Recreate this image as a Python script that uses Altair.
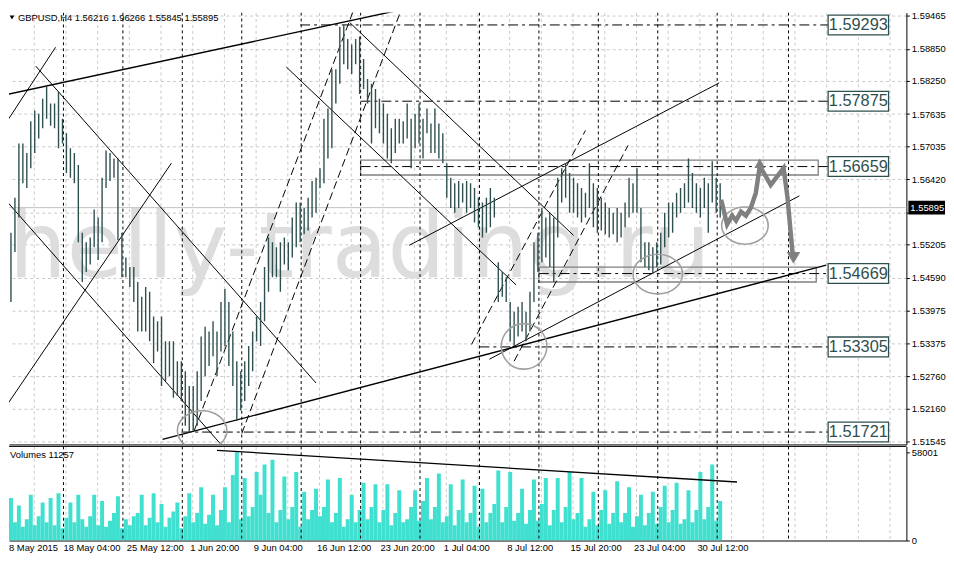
import altair as alt
import pandas as pd

# ---------------- data ----------------
# H4 price bars (every second bar), high / low
bar_high = [1.5599,1.5479,1.5543,1.5608,1.5709,1.5709,1.5691,1.5750,1.5770,1.5764,
1.5792,1.5814,1.5783,1.5783,1.5805,1.5755,1.5728,1.5700,1.5691,1.5669,
1.5543,1.5525,1.5534,1.5586,1.5571,1.5645,1.5696,1.5691,1.5681,1.5681,
1.5543,1.5497,1.5479,1.5479,1.5451,1.5424,1.5442,1.5433,1.5387,1.5378,
1.5387,1.5341,1.5341,1.5341,1.5304,1.5304,1.5285,1.5258,1.5258,1.5285,
1.5350,1.5368,1.5359,1.5378,1.5359,1.5414,1.5438,1.5414,1.5359,1.5304,
1.5285,1.5304,1.5332,1.5359,1.5387,1.5414,1.5479,1.5534,1.5525,1.5516,
1.5525,1.5534,1.5525,1.5571,1.5599,1.5599,1.5589,1.5608,1.5639,1.5645,
1.5663,1.5755,1.5774,1.5847,1.5847,1.5926,1.5930,1.5903,1.5893,1.5903,
1.5908,1.5866,1.5829,1.5820,1.5810,1.5792,1.5783,1.5764,1.5737,1.5755,
1.5755,1.5750,1.5783,1.5755,1.5764,1.5783,1.5755,1.5774,1.5746,1.5774,
1.5746,1.5728,1.5672,1.5645,1.5635,1.5639,1.5635,1.5639,1.5635,1.5626,
1.5608,1.5599,1.5608,1.5626,1.5608,1.5488,1.5470,1.5460,1.5414,1.5396,
1.5405,1.5414,1.5396,1.5433,1.5525,1.5543,1.5589,1.5571,1.5580,1.5571,
1.5645,1.5663,1.5672,1.5654,1.5645,1.5635,1.5626,1.5617,1.5672,1.5635,
1.5626,1.5608,1.5599,1.5589,1.5580,1.5589,1.5580,1.5599,1.5645,1.5635,
1.5663,1.5589,1.5525,1.5525,1.5516,1.5525,1.5543,1.5580,1.5599,1.5599,
1.5617,1.5626,1.5635,1.5681,1.5654,1.5635,1.5626,1.5645,1.5635,1.5676,
1.5645,1.5635]
bar_low = [1.5442,1.5396,1.5414,1.5507,1.5571,1.5635,1.5626,1.5663,1.5691,1.5718,
1.5737,1.5755,1.5742,1.5737,1.5700,1.5709,1.5654,1.5645,1.5635,1.5525,
1.5451,1.5470,1.5484,1.5516,1.5492,1.5525,1.5626,1.5639,1.5645,1.5529,
1.5460,1.5460,1.5442,1.5414,1.5359,1.5359,1.5359,1.5341,1.5300,1.5322,
1.5258,1.5267,1.5276,1.5236,1.5239,1.5230,1.5184,1.5171,1.5175,1.5184,
1.5230,1.5276,1.5295,1.5313,1.5276,1.5322,1.5332,1.5295,1.5258,1.5193,
1.5212,1.5230,1.5258,1.5285,1.5341,1.5332,1.5378,1.5433,1.5460,1.5460,
1.5433,1.5484,1.5473,1.5497,1.5516,1.5525,1.5540,1.5547,1.5571,1.5580,
1.5626,1.5635,1.5681,1.5700,1.5783,1.5820,1.5856,1.5847,1.5838,1.5856,
1.5801,1.5810,1.5783,1.5709,1.5737,1.5728,1.5709,1.5681,1.5672,1.5691,
1.5709,1.5709,1.5718,1.5663,1.5700,1.5709,1.5681,1.5728,1.5691,1.5691,
1.5681,1.5672,1.5608,1.5589,1.5580,1.5589,1.5599,1.5580,1.5589,1.5562,
1.5553,1.5534,1.5543,1.5553,1.5571,1.5414,1.5424,1.5414,1.5341,1.5332,
1.5350,1.5359,1.5341,1.5359,1.5414,1.5470,1.5488,1.5497,1.5479,1.5451,
1.5534,1.5599,1.5608,1.5580,1.5580,1.5571,1.5562,1.5571,1.5589,1.5553,
1.5543,1.5547,1.5540,1.5534,1.5540,1.5525,1.5534,1.5553,1.5571,1.5580,
1.5580,1.5488,1.5479,1.5473,1.5466,1.5479,1.5484,1.5516,1.5534,1.5543,
1.5571,1.5580,1.5589,1.5599,1.5589,1.5580,1.5571,1.5589,1.5543,1.5599,
1.5580,1.5571]
volume = [9000,14000,28000,12000,23000,9000,14000,30000,10000,16000,
25000,12000,28000,10000,31000,8000,15000,25000,12000,30000,
14000,9000,16000,30000,10000,26000,9000,13000,18000,29000,
8000,14000,10000,16000,18000,30000,10000,15000,31000,12000,
24000,9000,15000,19000,25000,8000,16000,31000,12000,18000,
35000,11000,17000,30000,10000,20000,35000,12000,43000,58000,
14000,41000,16000,22000,45000,30000,50000,18000,53000,12000,
20000,42000,14000,22000,45000,9000,32000,14000,20000,34000,
16000,22000,40000,12000,18000,41000,9000,14000,30000,12000,
20000,38000,14000,22000,37000,12000,20000,37000,10000,18000,
33000,12000,14000,22000,33000,13000,26000,41000,14000,22000,
44000,12000,16000,37000,10000,20000,40000,12000,18000,36000,
9000,34000,12000,18000,24000,46000,12000,22000,45000,13000,
18000,34000,11000,20000,40000,13000,24000,41000,10000,20000,
41000,12000,22000,45000,14000,18000,41000,9000,14000,32000,
10000,20000,33000,11000,18000,39000,12000,18000,35000,9000,
16000,30000,10000,18000,32000,11000,22000,36000,12000,20000,
38000,11000,14000,33000,12000,20000,45000,14000,22000,50000,
13000,26000]
bar_index = [2 * k + 1 for k in range(len(bar_high))]   # H4 bar number

price_ticks = [1.59465, 1.58850, 1.58250, 1.57635, 1.57035, 1.56420, 1.55805,
               1.55205, 1.54590, 1.53975, 1.53375, 1.52760, 1.52160, 1.51545]
volume_ticks = [0, 58001]
grid_bars = [0.5 + 16 * k for k in range(1, 29)]
week_starts = [31.5, 61.5, 91.5, 121.5, 151.5, 181.5, 211.5, 241.5, 271.5,
               301.5, 331.5, 361.5, 397.5]
date_labels = ["8 May 2015", "18 May 04:00", "25 May 12:00", "1 Jun 20:00",
               "9 Jun 04:00", "16 Jun 12:00", "23 Jun 20:00", "1 Jul 04:00",
               "8 Jul 12:00", "15 Jul 20:00", "23 Jul 04:00", "30 Jul 12:00"]
date_label_bars = [4, 31.5, 63.5, 95.5, 127.5, 159.5, 191.5, 223.5, 255.5,
                   287.5, 319.5, 351.5]

level_values = [1.59293, 1.57875, 1.56659, 1.54669, 1.53305, 1.51721]
level_start = [151, 181.5, 181.5, 271.5, 241.5, 91]
level_end = 417.5
zone_t0 = [181.5, 271.5]
zone_t1 = [412.5, 411.5]
zone_top = [1.56778, 1.54789]
zone_bot = [1.56502, 1.54512]

solid_t0 = [0, 17.5, 0, 0, 246.5, 206, 144, 176]
solid_p0 = [1.57331, 1.58528, 1.56133, 1.52063, 1.53076, 1.55194, 1.58510, 1.59338]
solid_t1 = [27.5, 159, 111, 86, 403, 362.5, 260, 289]
solid_p1 = [1.58878, 1.52634, 1.51491, 1.56723, 1.56115, 1.58215, 1.54457, 1.55378]
thick_t0 = [0, 81.5]
thick_p0 = [1.57975, 1.51584]
thick_t1 = [218.5, 416.5]
thick_p1 = [1.59707, 1.54826]
dash_t0 = [97.5, 121.5, 237.5, 259]
dash_p0 = [1.51749, 1.51694, 1.53352, 1.53039]
dash_t1 = [179, 202, 295, 316.5]
dash_p1 = [1.5967, 1.59578, 1.57331, 1.57054]

ellipse_t = [101.5, 264, 331.5, 375.5]
ellipse_p = [1.51749, 1.53315, 1.54660, 1.55562]
ellipse_kind = ["oval", "round", "oval", "oval"]
ellipse_radius_px = [25, 23, 25, 23.5]

forecast_t = [363.5, 366.5, 369, 371, 373.5, 376, 378.5, 381, 383, 388.5, 395, 397, 399.5]
forecast_p = [1.56041, 1.55581, 1.55747, 1.55654, 1.55820, 1.55747, 1.55894,
              1.56170, 1.56668, 1.56318, 1.56631, 1.56078, 1.55065]
head_down_t, head_down_p = [400], [1.54960]
head_up_t, head_up_p = [383], [1.56720]

vol_line_t = [109, 371.5]
vol_line_v = [59220, 38430]

last_price = 1.55895
title_text = "GBPUSD,H4  1.56216 1.96266 1.55845 1.55895"
watermark = "helly-trading.ru"

# ---------------- layout ----------------
W, HP, HV = 906, 436, 95
P_TOP, P_BOT = 1.59523, 1.51491
PX = (P_TOP - P_BOT) / HP
FONT = "Liberation Sans"

xs = alt.Scale(domain=[4, 457], nice=False, zero=False)
ys = alt.Scale(domain=[P_BOT, P_TOP], nice=False, zero=False)
vs = alt.Scale(domain=[0, 61800], nice=False)

x_axis = alt.Axis(values=grid_bars, labels=False, ticks=False, domain=True,
                  domainColor="black", grid=True, gridColor="#c8c8c8",
                  gridDash=[3, 3], title=None)
y_axis = alt.Axis(orient="right", values=price_ticks,
                  labelExpr="abs(datum.value-1.55805)<0.000001 ? '' : format(datum.value, '.5f')",
                  grid=True, gridColor="#c8c8c8", gridDash=[3, 3], tickSize=3,
                  tickColor="black", domainColor="black", labelFont=FONT,
                  labelFontSize=9.5, labelColor="black", labelPadding=2,
                  labelOverlap=False, title=None)
v_axis = alt.Axis(orient="right", values=volume_ticks, format="d", grid=False,
                  tickSize=3, tickColor="black", domainColor="black",
                  labelFont=FONT, labelFontSize=9.5, labelColor="black",
                  labelPadding=2, title=None)


def X(f):
    return alt.X(f, type="quantitative", scale=xs, axis=x_axis)


def Y(f):
    return alt.Y(f, type="quantitative", scale=ys, axis=y_axis)


def VY(f):
    return alt.Y(f, type="quantitative", scale=vs, axis=v_axis)


bars_df = pd.DataFrame({"t": bar_index, "high": bar_high, "low": bar_low, "v": volume})

wm = alt.Chart(pd.DataFrame({"t": [4], "p": [1.54605], "s": [watermark]})).mark_text(
    align="left", baseline="alphabetic", fontSize=92, font="DejaVu Sans", color="#dddddd"
).encode(x=X("t"), y=Y("p"), text="s:N")

bid = alt.Chart(pd.DataFrame({"p": [last_price]})).mark_rule(color="#c0c0c0").encode(y=Y("p"))

zones = alt.Chart(pd.DataFrame({"t0": zone_t0, "t1": zone_t1, "a": zone_top, "b": zone_bot})).mark_rect(
    fillOpacity=0, stroke="#808080", strokeWidth=1.3
).encode(x=X("t0"), x2="t1:Q", y=Y("a"), y2="b:Q")

weeks_p = alt.Chart(pd.DataFrame({"t": week_starts})).mark_rule(
    color="black", strokeDash=[3, 3], clip=True
).encode(x=X("t"))

levels = alt.Chart(pd.DataFrame({"t0": level_start, "p": level_values,
                                 "t1": [level_end] * len(level_values)})).mark_rule(
    color="black", strokeDash=[10, 4, 3, 4]
).encode(x=X("t0"), x2="t1:Q", y=Y("p"))

solid = alt.Chart(pd.DataFrame({"t0": solid_t0, "p0": solid_p0, "t1": solid_t1, "p1": solid_p1})).mark_rule(
    color="black", strokeWidth=1, clip=True
).encode(x=X("t0"), y=Y("p0"), x2="t1:Q", y2="p1:Q")

thick = alt.Chart(pd.DataFrame({"t0": thick_t0, "p0": thick_p0, "t1": thick_t1, "p1": thick_p1})).mark_rule(
    color="black", strokeWidth=1.4, clip=True
).encode(x=X("t0"), y=Y("p0"), x2="t1:Q", y2="p1:Q")

dashed = alt.Chart(pd.DataFrame({"t0": dash_t0, "p0": dash_p0, "t1": dash_t1, "p1": dash_p1})).mark_rule(
    color="black", strokeWidth=1, strokeDash=[8, 4], clip=True
).encode(x=X("t0"), y=Y("p0"), x2="t1:Q", y2="p1:Q")

price_bars = alt.Chart(bars_df).mark_rule(color="#2f4f4f", strokeWidth=1.4, clip=True).encode(
    x=X("t"), y=Y("low"), y2="high:Q"
)

oval_path = "M -1 0 A 1 0.8 0 1 1 1 0 A 1 0.8 0 1 1 -1 0 Z"
round_path = "M -1 0 A 1 1 0 1 1 1 0 A 1 1 0 1 1 -1 0 Z"
ell_df = pd.DataFrame({"t": ellipse_t, "p": ellipse_p, "k": ellipse_kind,
                       "s": [(2 * r) ** 2 for r in ellipse_radius_px]})
ellipses = alt.Chart(ell_df).mark_point(filled=False, color="#a0a0a0", strokeWidth=1.6,
                                        opacity=1, clip=True).encode(
    x=X("t"), y=Y("p"),
    shape=alt.Shape("k:N", scale=alt.Scale(domain=["oval", "round"], range=[oval_path, round_path]), legend=None),
    size=alt.Size("s:Q", scale=None, legend=None),
)

fc_df = pd.DataFrame({"t": forecast_t, "p": forecast_p, "i": list(range(len(forecast_t)))})
forecast = alt.Chart(fc_df).mark_line(color="#808080", strokeWidth=4.5, strokeJoin="miter").encode(
    x=X("t"), y=Y("p"), order="i:Q"
)
head_down = alt.Chart(pd.DataFrame({"t": head_down_t, "p": head_down_p})).mark_point(
    shape="triangle-down", filled=True, color="#808080", opacity=1, size=190
).encode(x=X("t"), y=Y("p"))
head_up = alt.Chart(pd.DataFrame({"t": head_up_t, "p": head_up_p})).mark_point(
    shape="triangle-up", filled=True, color="#808080", opacity=1, size=120
).encode(x=X("t"), y=Y("p"))

box_df = pd.DataFrame({"p": level_values,
                       "lab": [f"{v:.5f}" for v in level_values]})
box_df["a"] = box_df["p"] + 10 * PX
box_df["b"] = box_df["p"] - 10 * PX
box_df["t0"] = 417.5
box_df["t1"] = 448
box_df["tc"] = 432.75
boxes = alt.Chart(box_df).mark_rect(fill="white", stroke="#2f4f4f", strokeWidth=1.3).encode(
    x=X("t0"), x2="t1:Q", y=Y("a"), y2="b:Q"
)
box_text = alt.Chart(box_df).mark_text(fontSize=16.5, font=FONT, color="#2f4f4f",
                                       baseline="middle", align="center").encode(
    x=X("tc"), y=Y("p"), text="lab:N"
)

title_df = pd.DataFrame({"s": [title_text]})
title = alt.Chart(title_df).mark_text(align="left", baseline="top", fontSize=9.5, font=FONT,
                                      color="black").encode(
    x=alt.value(9), y=alt.value(1), text="s:N"
)
title_tri = alt.Chart(title_df).mark_point(shape="triangle-down", filled=True, color="black",
                                           size=22, opacity=1).encode(
    x=alt.value(3), y=alt.value(5)
)

lp_df = pd.DataFrame({"p": [last_price], "lab": [f"{last_price:.5f}"]})
lp_df["a"] = lp_df["p"] + 7 * PX
lp_df["b"] = lp_df["p"] - 7 * PX
lp_box = alt.Chart(lp_df).mark_rect(color="black").encode(
    x=alt.value(W + 2), x2=alt.value(W + 39), y=Y("a"), y2="b:Q"
)
lp_text = alt.Chart(lp_df).mark_text(color="white", align="left", baseline="middle",
                                     fontSize=9.5, font=FONT).encode(
    x=alt.value(W + 4), y=Y("p"), text="lab:N"
)

price_panel = alt.layer(
    wm, bid, zones, weeks_p, levels, solid, thick, dashed, price_bars,
    ellipses, forecast, head_down, head_up, boxes, box_text, title, title_tri, lp_box, lp_text
).properties(width=W, height=HP)

# ---------------- volume panel ----------------
vol_bars = alt.Chart(bars_df).transform_calculate(
    t0="datum.t - 1", t1="datum.t + 1", z="0"
).mark_rect(color="#40e0d0", clip=True).encode(
    x=X("t0:Q"), x2="t1:Q", y=VY("v"), y2="z:Q"
)
weeks_v = alt.Chart(pd.DataFrame({"t": week_starts})).mark_rule(
    color="black", strokeDash=[3, 3], clip=True
).encode(x=X("t"))
vol_line = alt.Chart(pd.DataFrame({"t0": [vol_line_t[0]], "v0": [vol_line_v[0]],
                                   "t1": [vol_line_t[1]], "v1": [vol_line_v[1]]})).mark_rule(
    color="black", strokeWidth=1.3
).encode(x=X("t0"), y=VY("v0"), x2="t1:Q", y2="v1:Q")
top_border = alt.Chart(pd.DataFrame({"a": [0]})).mark_rule(color="black").encode(y=alt.value(0))
vol_title = alt.Chart(pd.DataFrame({"s": ["Volumes 11257"]})).mark_text(
    align="left", baseline="top", fontSize=9.5, font=FONT, color="black"
).encode(x=alt.value(1), y=alt.value(4), text="s:N")
dates = alt.Chart(pd.DataFrame({"t": date_label_bars, "s": date_labels})).mark_text(
    align="left", baseline="top", fontSize=9.5, font=FONT, color="black"
).encode(x=X("t"), y=alt.value(HV + 3), text="s:N")

volume_panel = alt.layer(vol_bars, weeks_v, vol_line, top_border, vol_title, dates).properties(
    width=W, height=HV
)

chart = alt.vconcat(price_panel, volume_panel, spacing=2, bounds="flush").properties(
    padding=0, background="white"
).configure_view(stroke=None)

chart.save("out.html", embed_options={"renderer": "svg", "actions": False})
